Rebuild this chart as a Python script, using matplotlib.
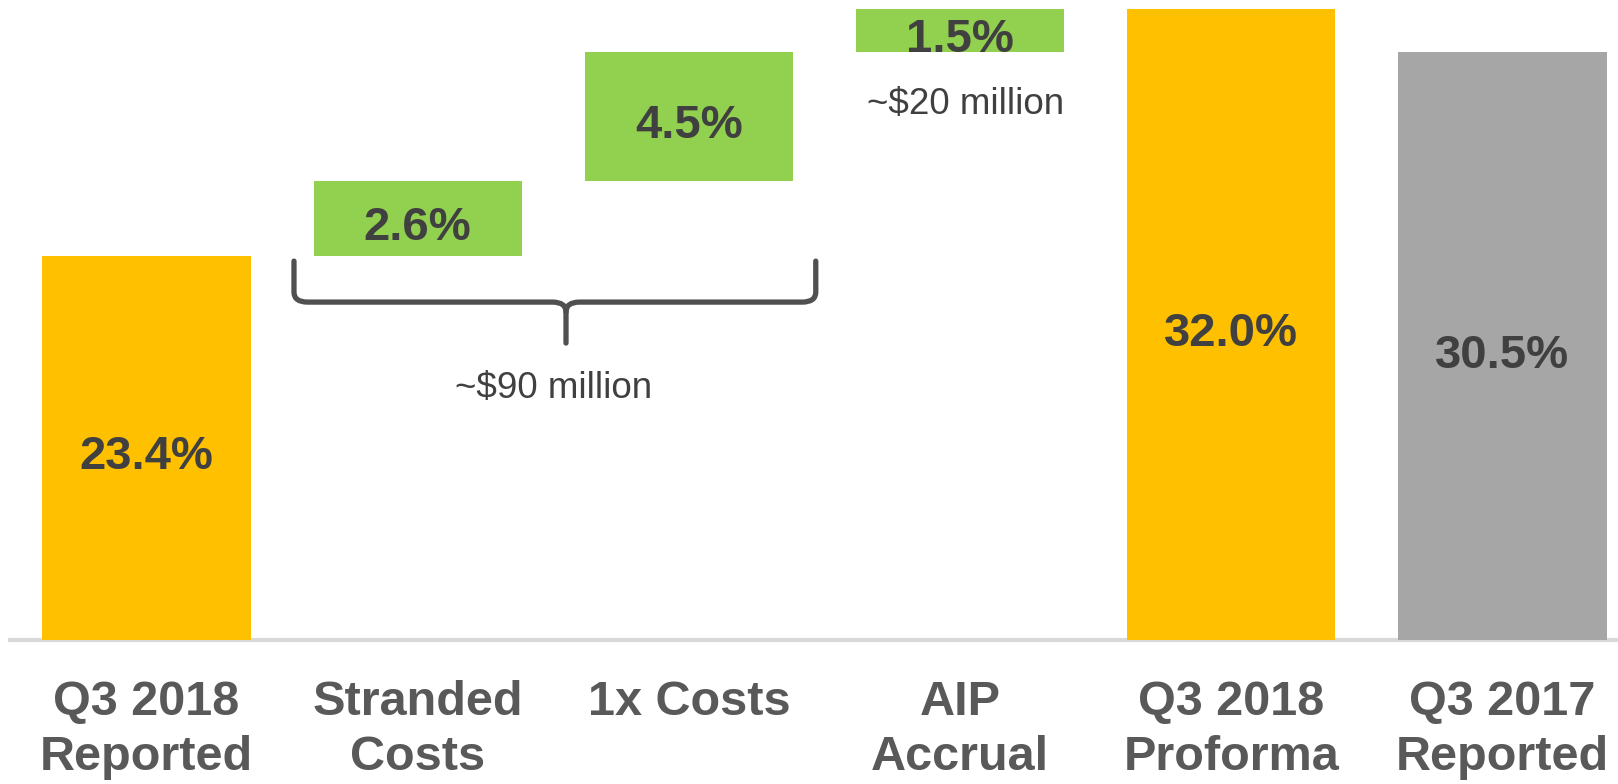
import matplotlib
matplotlib.use('Agg')
import matplotlib.pyplot as plt
from matplotlib.path import Path
from matplotlib.patches import PathPatch

# data
categories = ['Q3 2018\nReported', 'Stranded\nCosts', '1x Costs', 'AIP\nAccrual',
              'Q3 2018\nProforma', 'Q3 2017\nReported']
values = [23.4, 2.6, 4.5, 1.5, 32.0, 30.5]
kinds = ['total', 'step', 'step', 'step', 'total', 'total']
bar_colors = ['#FFC000', '#92D050', '#92D050', '#92D050', '#FFC000', '#A6A6A6']
value_labels = ['23.4%', '2.6%', '4.5%', '1.5%', '32.0%', '30.5%']
notes = ['~$90 million', '~$20 million']

y_floor = 10.0
y_top = 32.33

fig = plt.figure(figsize=(16.18, 7.84), dpi=100)
ax = fig.add_axes([0, 144 / 784, 1, 640 / 784])

# waterfall bottoms
bottoms = []
running = 0
for v, k in zip(values, kinds):
    if k == 'total':
        bottoms.append(y_floor)
        running = v
    else:
        bottoms.append(running)
        running += v
heights = [(v - b) if k == 'total' else v for v, b, k in zip(values, bottoms, kinds)]

x = list(range(len(categories)))
ax.bar(x, heights, bottom=bottoms, width=0.768, color=bar_colors, zorder=2)

for xi, b, h, lab in zip(x, bottoms, heights, value_labels):
    ax.text(xi, b + h / 2 - 0.33, lab, ha='center', va='center', fontsize=34,
            fontweight='bold', color='#404040', family=['Liberation Sans', 'DejaVu Sans'], zorder=3)

ax.set_xlim(-0.54, 5.426)
ax.set_ylim(y_floor, y_top)
ax.axis('off')

# baseline
ax.axhline(y_floor, xmin=0.006, xmax=1, color='#D9D9D9', lw=3, zorder=1, clip_on=False)

# category labels
for xi, c in zip(x, categories):
    ax.text(xi, -0.062, c, transform=ax.get_xaxis_transform(), ha='center', va='top',
            fontsize=35, fontweight='bold', color='#595959', linespacing=1.3,
            family=['Liberation Sans', 'DejaVu Sans'])

# brace over stranded + 1x costs
xl, xr, xm = 0.544, 2.468, 1.547
yt, yl, yb = 23.22, 21.79, 20.36
r = 0.05
ry = 0.35
verts = [(xl, yt), (xl, yl + ry), (xl, yl), (xl + r, yl),
         (xm - r, yl), (xm, yl), (xm, yl - ry), (xm, yb)]
codes = [Path.MOVETO, Path.LINETO, Path.CURVE3, Path.CURVE3,
         Path.LINETO, Path.CURVE3, Path.CURVE3, Path.LINETO]
ax.add_patch(PathPatch(Path(verts, codes), fill=False, ec='#505050', lw=3.8,
                       capstyle='round', joinstyle='round', zorder=3))
verts2 = [(xr, yt), (xr, yl + ry), (xr, yl), (xr - r, yl),
          (xm + r, yl), (xm, yl), (xm, yl - ry)]
codes2 = [Path.MOVETO, Path.LINETO, Path.CURVE3, Path.CURVE3,
          Path.LINETO, Path.CURVE3, Path.CURVE3]
ax.add_patch(PathPatch(Path(verts2, codes2), fill=False, ec='#505050', lw=3.8,
                       capstyle='round', joinstyle='round', zorder=3))

ax.text(1.5, 18.78, notes[0], ha='center', va='center', fontsize=26.5, color='#404040',
        family=['Liberation Sans', 'DejaVu Sans'])
ax.text(3.02, 28.7, notes[1], ha='center', va='center', fontsize=26.5, color='#404040',
        family=['Liberation Sans', 'DejaVu Sans'])

fig.savefig('out.png', dpi=100)
